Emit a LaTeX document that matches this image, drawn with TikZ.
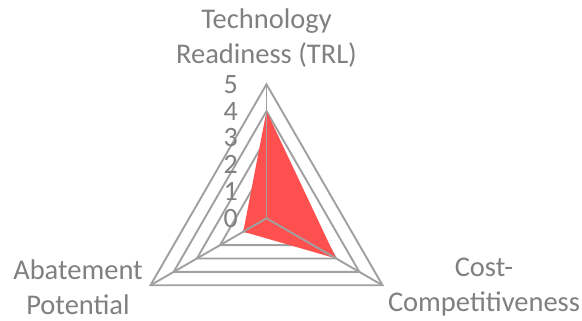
\documentclass[tikz,border=0pt]{standalone}
\usepackage{fontspec}
\setmainfont{Carlito}
\usetikzlibrary{calc}
\definecolor{gridgray}{RGB}{160,160,160}
\definecolor{txtgray}{RGB}{128,128,128}
\definecolor{datared}{RGB}{255,80,80}
\begin{document}
\begin{tikzpicture}[x=1pt,y=1pt,
  gridline/.style={draw=gridgray,line width=1.9pt,line join=miter},
  axislabel/.style={text=txtgray,font=\fontsize{28.5}{35}\selectfont,align=center,inner sep=0pt},
  ticklabel/.style={text=txtgray,font=\fontsize{28}{28}\selectfont,anchor=east,inner sep=0pt}]
\useasboundingbox (0,0) rectangle (582,321);
\coordinate (O) at (266.5,102.7);
\def\u{26.8}
% rings
\foreach \k in {1,...,5}{
  \draw[gridline] ($(O)+(90:\k*\u)$) -- ($(O)+(210:\k*\u)$) -- ($(O)+(330:\k*\u)$) -- cycle;
}
% data
\fill[datared] ($(O)+(90:4*\u)$) -- ($(O)+(210:1*\u)$) -- ($(O)+(330:3*\u)$) -- cycle;
% spokes
\coordinate (A) at ($(O)+(90:5*\u)$);
\coordinate (B) at ($(O)+(210:5*\u)$);
\coordinate (C) at ($(O)+(330:5*\u)$);
\draw[gridline] (O) -- (A);
\draw[gridline] (O) -- (B);
\draw[gridline] (O) -- (C);
% ticks
\foreach \k in {0,...,5}{
  \node[ticklabel] (t\k) at ($(O)+(-28.5,\k*\u)$) {\k};
}
% axis labels
\node[axislabel] (lt) at (266.5,283) {Technology\\Readiness (TRL)};
\node[axislabel] (lb) at (78,34) {Abatement\\Potential};
\node[axislabel] (lc) at (484,34) {Cost-\\Competitiveness};
\end{tikzpicture}
\end{document}
